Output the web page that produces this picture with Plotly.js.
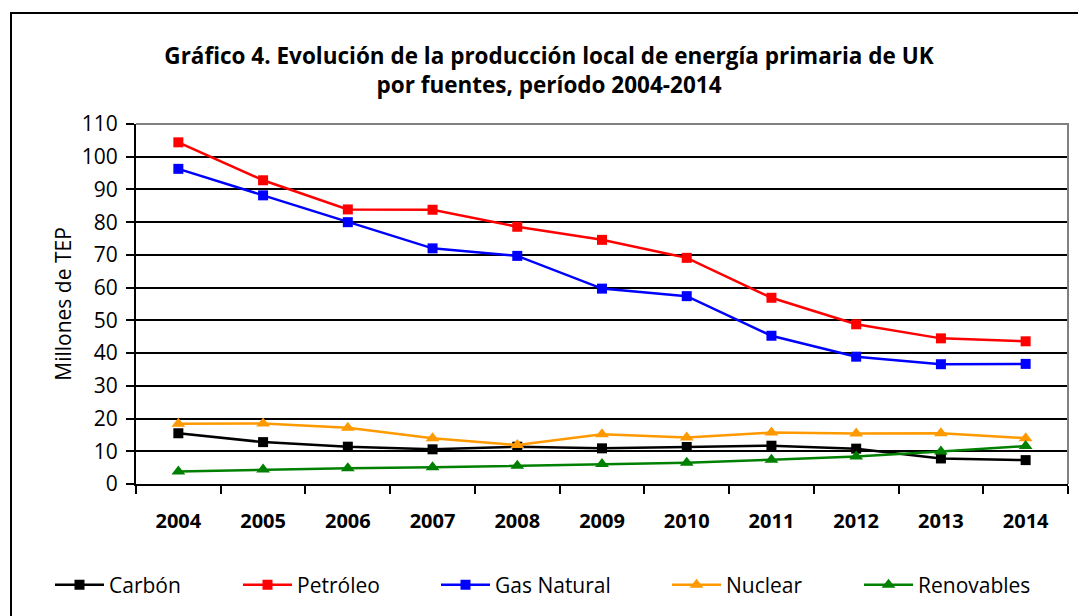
<!DOCTYPE html>
<html>
<head>
<meta charset="utf-8">
<script src="https://cdn.plot.ly/plotly-3.0.1.min.js"></script>
<style>
html,body{margin:0;padding:0;background:#fff;}
#chart{width:1078px;height:616px;}
</style>
</head>
<body>
<div id="chart"></div>
<script>
var years = ['2004','2005','2006','2007','2008','2009','2010','2011','2012','2013','2014'];
var carbon = [15.5, 12.8, 11.4, 10.6, 11.4, 10.9, 11.3, 11.7, 10.8, 7.8, 7.3];
var petroleo = [104.4, 92.8, 83.9, 83.8, 78.6, 74.6, 69.1, 56.9, 48.8, 44.5, 43.6];
var gas = [96.3, 88.2, 80.0, 72.0, 69.7, 59.7, 57.4, 45.3, 38.9, 36.6, 36.7];
var nuclear = [18.4, 18.5, 17.2, 14.0, 11.9, 15.2, 14.2, 15.7, 15.4, 15.5, 14.0];
var renovables = [3.8, 4.4, 4.8, 5.1, 5.6, 6.1, 6.5, 7.4, 8.4, 9.9, 11.6];
var yTicks = [0,10,20,30,40,50,60,70,80,90,100,110];

var FONT = 'Open Sans, sans-serif';
var L = 136, R = 10, T = 124, B = 132;
var W = 1078 - L - R, H = 616 - T - B;
function px(x){ return (x - L) / W; }
function py(y){ return (616 - B - y) / H; }

function tr(name, y, color, symbol, size, leg){
  return {x: years, y: y, name: name, type: 'scatter', mode: 'lines+markers',
    line: {color: color, width: 2.5},
    marker: {color: color, symbol: symbol, size: size},
    legend: leg};
}
var data = [
  tr('Carbón', carbon, '#000000', 'square', 10, 'legend'),
  tr('Petróleo', petroleo, '#ff0000', 'square', 10, 'legend2'),
  tr('Gas Natural', gas, '#0000ff', 'square', 10, 'legend3'),
  tr('Nuclear', nuclear, '#ff9900', 'triangle-up', 12, 'legend4'),
  tr('Renovables', renovables, '#008000', 'triangle-up', 12, 'legend5')
];

function leg(xpx){
  return {orientation: 'h', x: px(xpx - 5), xanchor: 'left', y: py(585), yanchor: 'middle',
    font: {family: FONT, size: 21, color: '#000'}, bgcolor: 'rgba(0,0,0,0)', itemwidth: 49};
}

var layout = {
  width: 1078, height: 616,
  margin: {l: L, r: R, t: T, b: B, pad: 0},
  paper_bgcolor: '#fff', plot_bgcolor: '#fff',
  font: {family: FONT, color: '#000'},
  title: {text: 'Gráfico 4. Evolución de la producción local de energía primaria de UK<br>por fuentes, período 2004-2014',
    font: {family: FONT, size: 22.5, color: '#000', weight: 'bold'},
    x: 549/1078, xanchor: 'center', xref: 'container', y: 1 - 64/616, yanchor: 'middle', yref: 'container'},
  xaxis: {type: 'category', tickson: 'boundaries', ticks: 'outside', ticklen: 8, tickwidth: 2, tickcolor: '#000',
    showline: true, linecolor: '#000', linewidth: 2, showgrid: false, zeroline: false,
    tickfont: {family: FONT, size: 20, color: '#000', weight: 'bold'}, ticklabelstandoff: 18,
    range: [-0.5, 10.5], fixedrange: true},
  yaxis: {range: [0, 110], tickvals: yTicks, ticks: 'outside', ticklen: 8, tickwidth: 2, tickcolor: '#000',
    showline: true, linecolor: '#000', linewidth: 2, showgrid: true, gridcolor: '#000', gridwidth: 2,
    zeroline: false, tickfont: {family: FONT, size: 21, color: '#000'}, ticklabelstandoff: 4,
    title: {text: 'Millones de TEP', font: {family: FONT, size: 21, color: '#000'}, standoff: 4},
    automargin: true, fixedrange: true},
  showlegend: true,
  legend: leg(55), legend2: leg(243), legend3: leg(441), legend4: leg(672), legend5: leg(864),
  shapes: [
    {type: 'path', xref: 'paper', yref: 'paper', path: 'M0,1 L1,1 L1,0', line: {color: '#808080', width: 2}, layer: 'above'},
    {type: 'rect', xref: 'paper', yref: 'paper', x0: px(11), x1: px(1090), y0: py(630), y1: py(13),
      line: {color: '#000', width: 2}, fillcolor: 'rgba(0,0,0,0)', layer: 'below'}
  ]
};
Plotly.newPlot('chart', data, layout, {displayModeBar: false, staticPlot: true});
</script>
</body>
</html>
